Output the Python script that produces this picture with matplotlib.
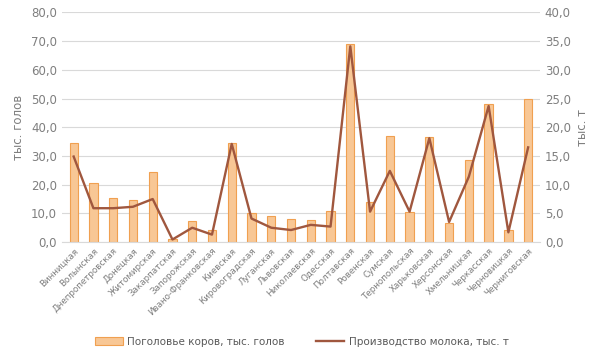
import matplotlib
matplotlib.use("Agg")
import matplotlib.pyplot as plt
from matplotlib.ticker import FuncFormatter, MultipleLocator

regions = ["Винницкая", "Волынская", "Днепропетровская", "Донецкая", "Житомирская",
           "Закарпатская", "Запорожская", "Ивано-Франковская", "Киевская", "Кировоградская",
           "Луганская", "Львовская", "Николаевская", "Одесская", "Полтавская", "Ровенская",
           "Сумская", "Тернопольская", "Харьковская", "Херсонская", "Хмельницкая",
           "Черкасская", "Черновицкая", "Черниговская"]
cows = [34.5, 20.5, 15.4, 14.6, 24.5, 1.0, 7.3, 4.2, 34.5, 10.3, 9.2, 8.0,
        7.7, 10.9, 68.9, 14.0, 36.9, 10.6, 36.7, 6.5, 28.6, 48.0, 4.2, 50.0]
milk = [14.9, 5.9, 5.9, 6.15, 7.5, 0.45, 2.5, 1.3, 17.1, 4.1, 2.5, 2.1,
        3.0, 2.7, 34.1, 5.3, 12.4, 5.3, 18.1, 3.5, 11.4, 23.7, 1.7, 16.5]
cows_label = "Поголовье коров, тыс. голов"
milk_label = "Производство молока, тыс. т"

gray = "#7f7f7f"
fig = plt.figure(figsize=(6, 3.56), dpi=100)
ax = fig.add_axes([0.103, 0.32, 0.797, 0.645])
ax2 = ax.twinx()
x = list(range(len(regions)))
ax.bar(x, cows, width=0.42, color="#F8C795", edgecolor="#F0A050", linewidth=0.8,
       label=cows_label, zorder=2)
ax2.plot(x, milk, color="#A0573E", linewidth=1.7, label=milk_label, zorder=3)

ax.set_ylim(0, 80)
ax2.set_ylim(0, 40)
ax.yaxis.set_major_locator(MultipleLocator(10))
ax2.yaxis.set_major_locator(MultipleLocator(5))
fmt = FuncFormatter(lambda v, p: f"{v:.1f}".replace(".", ","))
ax.yaxis.set_major_formatter(fmt)
ax2.yaxis.set_major_formatter(fmt)
ax.set_xlim(-0.6, len(regions) - 0.4)
ax.grid(axis="y", color="#D9D9D9", linewidth=0.8, zorder=0)
ax.set_axisbelow(True)
for a in (ax, ax2):
    for s in a.spines.values():
        s.set_visible(False)
    a.tick_params(length=0, colors=gray, labelsize=8.5)
ax.spines["bottom"].set_visible(True)
ax.spines["bottom"].set_color("#D9D9D9")
ax.set_xticks(x)
ax.set_xticklabels(regions, rotation=45, ha="right", rotation_mode="anchor", fontsize=6.3, color=gray)
ax.tick_params(axis="x", pad=3)
ax.set_ylabel("тыс. голов", color=gray, fontsize=8.5)
ax2.set_ylabel("тыс. т", color=gray, fontsize=8.5)

h1, l1 = ax.get_legend_handles_labels()
h2, l2 = ax2.get_legend_handles_labels()
fig.legend(h1 + h2, l1 + l2, loc="center", bbox_to_anchor=(0.503, 0.04), ncol=2,
           frameon=False, fontsize=7.5, labelcolor="#595959", columnspacing=3.0,
           handlelength=2.7, handletextpad=0.4)
fig.savefig("out.png", dpi=100)
